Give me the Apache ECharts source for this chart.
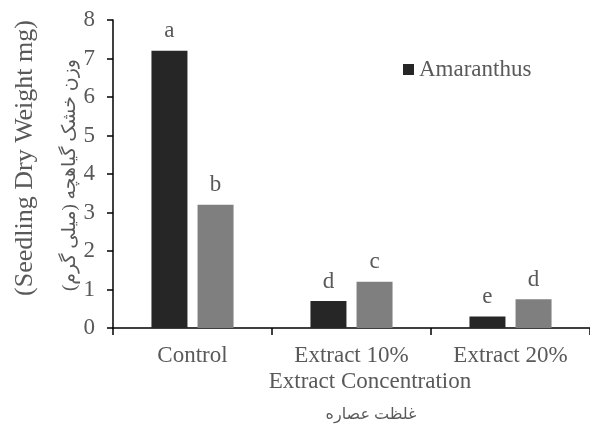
<!DOCTYPE html>
<html><head><meta charset="utf-8">
<script src="https://cdn.jsdelivr.net/npm/echarts@6/dist/echarts.min.js"></script>
<style>html,body{margin:0;padding:0;background:#fff}#c{width:590px;height:427px}</style>
</head><body><div id="c"></div>
<script>
const categories = ['Control', 'Extract 10%', 'Extract 20%'];
const amaranthus = [7.2, 0.7, 0.3];
const secondSeries = [3.2, 1.2, 0.75];
const amaranthusLetters = ['a', 'd', 'e'];
const secondLetters = ['b', 'c', 'd'];
const yTicks = [0, 1, 2, 3, 4, 5, 6, 7, 8];

const FONT = '"Liberation Serif", "Times New Roman", "DejaVu Sans", serif';
const TXT = '#595959';
const chart = echarts.init(document.getElementById('c'));
chart.setOption({
  animation: false,
  backgroundColor: '#fff',
  textStyle: { fontFamily: FONT },
  grid: { left: 113, right: 0, top: 20, bottom: 99 },
  legend: {
    data: ['Amaranthus'], left: 398, top: 53, icon: 'rect', itemWidth: 11, itemHeight: 11, itemGap: 4,
    textStyle: { fontFamily: FONT, fontSize: 23, color: TXT }
  },
  xAxis: {
    type: 'category', data: categories,
    axisLine: { lineStyle: { color: '#000', width: 1.5 } },
    axisTick: { show: true, length: 7, lineStyle: { color: '#000', width: 1.5 } },
    axisLabel: { fontFamily: FONT, fontSize: 23, color: TXT, margin: 16 }
  },
  yAxis: {
    type: 'value', min: yTicks[0], max: yTicks[yTicks.length - 1], interval: 1,
    splitLine: { show: false },
    axisLine: { show: true, lineStyle: { color: '#000', width: 1.5 } },
    axisTick: { show: true, length: 6, lineStyle: { color: '#000', width: 1.5 } },
    axisLabel: { fontFamily: FONT, fontSize: 23, color: TXT, margin: 18 }
  },
  series: [
    {
      name: 'Amaranthus', type: 'bar', data: amaranthus, barWidth: 36, barGap: '28%',
      itemStyle: { color: '#262626' },
      label: { show: true, position: 'top', distance: 8, fontFamily: FONT, fontSize: 23, color: TXT,
        formatter: p => amaranthusLetters[p.dataIndex] }
    },
    {
      name: 'Series2', type: 'bar', data: secondSeries, barWidth: 36,
      itemStyle: { color: '#7f7f7f' },
      label: { show: true, position: 'top', distance: 8, fontFamily: FONT, fontSize: 23, color: TXT,
        formatter: p => secondLetters[p.dataIndex] }
    }
  ],
  graphic: [
    { type: 'text', x: 25, y: 158, rotation: Math.PI / 2,
      style: { text: '(Seedling Dry Weight mg)', fontFamily: FONT, fontSize: 26, fill: TXT, align: 'center', verticalAlign: 'middle' } },
    { type: 'text', x: 70, y: 175, rotation: Math.PI / 2,
      style: { text: 'وزن خشک گیاهچه (میلی گرم)', fontFamily: FONT, fontSize: 19, fill: TXT, align: 'center', verticalAlign: 'middle' } },
    { type: 'text', x: 370, y: 382,
      style: { text: 'Extract Concentration', fontFamily: FONT, fontSize: 23, fill: TXT, align: 'center', verticalAlign: 'middle' } },
    { type: 'text', x: 371, y: 415,
      style: { text: 'غلظت عصاره', fontFamily: FONT, fontSize: 16, fill: TXT, align: 'center', verticalAlign: 'middle' } }
  ]
});
</script></body></html>
